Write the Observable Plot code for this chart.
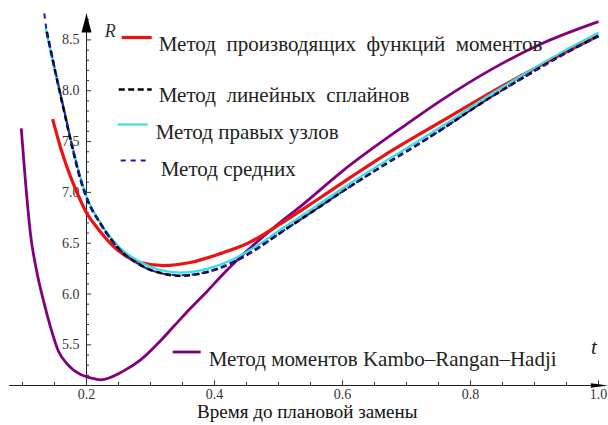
<!DOCTYPE html>
<html><head><meta charset="utf-8">
<script src="https://cdn.jsdelivr.net/npm/d3@7"></script>
<script src="https://cdn.jsdelivr.net/npm/@observablehq/plot@0.6"></script>
<style>
body{margin:0;background:#fff;}
#chart{width:608px;height:425px;}
</style></head><body><div id="chart"></div>
<script>
// ---- data ----
const tPurple = [0.098,0.105,0.1125,0.123,0.133,0.144,0.156,0.170,0.190,0.206,0.222,0.258,0.284,0.311,0.336,0.3625,0.389,0.414,0.45,0.498,0.534,0.60,0.70,0.753,0.83,0.91,1.0];
const rPurple = [7.63,7.08,6.59,6.20,5.93,5.67,5.44,5.31,5.21,5.176,5.156,5.244,5.35,5.51,5.68,5.86,6.03,6.20,6.42,6.68,6.86,7.21,7.67,7.90,8.20,8.46,8.68];

const tRed = [0.147,0.16,0.17,0.185,0.20,0.217,0.242,0.284,0.32,0.362,0.41,0.452,0.503,0.561,0.613,0.664,0.717,0.758,0.82,0.88,0.94,1.0];
const rRed = [7.72,7.43,7.24,7.00,6.80,6.65,6.47,6.31,6.28,6.31,6.40,6.50,6.69,6.93,7.15,7.36,7.56,7.71,7.94,8.15,8.35,8.54];

const tCyan = [0.136,0.145,0.155,0.165,0.175,0.19,0.20,0.222,0.253,0.28,0.32,0.347,0.39,0.425,0.46,0.50,0.56,0.61,0.66,0.72,0.76,0.82,0.88,0.94,1.0];
const rCyan = [8.62,8.36,8.08,7.80,7.53,7.16,6.96,6.70,6.45,6.33,6.23,6.21,6.25,6.33,6.45,6.62,6.87,7.08,7.28,7.51,7.67,7.92,8.15,8.37,8.57];

const tBlack = [0.138,0.145,0.155,0.165,0.175,0.19,0.20,0.222,0.253,0.28,0.32,0.347,0.39,0.425,0.46,0.50,0.56,0.61,0.66,0.72,0.76,0.82,0.88,0.94,1.0];
const rBlack = [8.58,8.37,8.08,7.80,7.52,7.14,6.95,6.69,6.43,6.30,6.20,6.18,6.22,6.30,6.42,6.59,6.84,7.05,7.25,7.48,7.64,7.89,8.12,8.34,8.54];

const tBlue = [0.134,0.137,0.145,0.155,0.165,0.175,0.19,0.20,0.222,0.253,0.28,0.32,0.347,0.39,0.425,0.46,0.50,0.56,0.61,0.66,0.72,0.76,0.82,0.88,0.94,1.0];
const rBlue = [8.76,8.62,8.38,8.09,7.81,7.53,7.15,6.95,6.69,6.43,6.30,6.20,6.185,6.22,6.30,6.42,6.59,6.84,7.05,7.25,7.48,7.64,7.89,8.12,8.34,8.535];

const xTickValues = [0.2,0.4,0.6,0.8,1.0];
const xMinorValues = [0.1,0.15,0.25,0.3,0.35,0.45,0.5,0.55,0.65,0.7,0.75,0.85,0.9,0.95];
const yTickValues = [5.5,6.0,6.5,7.0,7.5,8.0,8.5];
const yMinorValues = [5.2,5.3,5.4,5.6,5.7,5.8,5.9,6.1,6.2,6.3,6.4,6.6,6.7,6.8,6.9,7.1,7.2,7.3,7.4,7.6,7.7,7.8,7.9,8.1,8.2,8.3,8.4,8.6,8.7];

const seriesLabels = [
  "Метод\u00a0 производящих\u00a0 функций\u00a0 моментов",
  "Метод\u00a0 линейных\u00a0 сплайнов",
  "Метод правых узлов",
  "Метод средних",
  "Метод моментов Kambo–Rangan–Hadji"
];
const xTitle = "Время до плановой замены";
const yName = "R";
const xName = "t";

// ---- layout / style ----
const W = 608, H = 425;
const xDomain = [0.08, 1.01], xRange = [9.2, 604.4];
const yDomain = [5.1, 8.75], yRange = [385, 14];
const xAxisAt = yDomain[0];   // x axis drawn at bottom of y domain
const yAxisAt = 0.2;          // y axis crosses at t = 0.2
const yPerPx = (yDomain[1]-yDomain[0])/(yRange[0]-yRange[1]);
const xPerPx = (xDomain[1]-xDomain[0])/(xRange[1]-xRange[0]);
const serif = "'Liberation Serif','Times New Roman',serif";

const toRows = (ts, rs) => ts.map((t,i) => ({t, r: rs[i]}));
const styles = [
  {stroke:"#ee1111", width:3.2, dash:null},
  {stroke:"#000000", width:2.6, dash:"6,3.5"},
  {stroke:"#33e0e0", width:2.2, dash:null},
  {stroke:"#1a1ab8", width:2.0, dash:"5,5"},
  {stroke:"#800080", width:2.8, dash:null}
];
// legend placement (pixels from frame top-left)
const legendPos = [
  {lx:127, ly:23, half:15, tx:149, ty:21.5},
  {lx:125.5, ly:75, half:16.5, tx:149, ty:72.5},
  {lx:123, ly:110, half:15, tx:146, ty:109.5},
  {lx:124.5, ly:146, half:13.5, tx:151, ty:146.5},
  {lx:177, ly:337.5, half:14, tx:199, ty:336.5}
];
const hLine = (half) => ({draw(ctx){ ctx.moveTo(-half,0); ctx.lineTo(half,0); }});
const upArrow = {draw(ctx){ ctx.moveTo(0,-10); ctx.lineTo(5,9); ctx.lineTo(-5,9); ctx.closePath(); }};
const rightArrow = {draw(ctx){ ctx.moveTo(4,0); ctx.lineTo(-14,-2.2); ctx.lineTo(-14,2.2); ctx.closePath(); }};

const lineMark = (rows, s) => Plot.line(rows, {x:"t", y:"r", stroke:s.stroke, strokeWidth:s.width, strokeDasharray:s.dash, curve:"monotone-x", strokeLinecap:"butt"});

const marks = [
  // axes
  Plot.ruleY([xAxisAt], {stroke:"#222", strokeWidth:1}),
  Plot.ruleX([yAxisAt], {stroke:"#222", strokeWidth:1}),
  Plot.ruleX(xMinorValues, {x:d=>d, y1:xAxisAt, y2:xAxisAt+3*yPerPx, stroke:"#333"}),
  Plot.ruleX(xTickValues, {x:d=>d, y1:xAxisAt, y2:xAxisAt+4.5*yPerPx, stroke:"#333"}),
  Plot.ruleY(yMinorValues, {y:d=>d, x1:yAxisAt, x2:yAxisAt+3*xPerPx, stroke:"#333"}),
  Plot.ruleY(yTickValues, {y:d=>d, x1:yAxisAt, x2:yAxisAt+5*xPerPx, stroke:"#333"}),
  Plot.text(xTickValues, {x:d=>d, y:()=>xAxisAt, dy:9, text:d=>d.toFixed(1), fontSize:14, fontFamily:serif, fill:"#333"}),
  Plot.text(yTickValues, {x:()=>yAxisAt, y:d=>d, dx:-7, textAnchor:"end", text:d=>d.toFixed(1), fontSize:14, fontFamily:serif, fill:"#333"}),
  Plot.dot([0], {x:()=>yAxisAt, y:()=>yDomain[1], dy:9, symbol:upArrow, fill:"#000", stroke:null}),
  Plot.dot([0], {x:()=>xDomain[1], y:()=>xAxisAt, symbol:rightArrow, fill:"#000", stroke:null}),
  // curves
  lineMark(toRows(tPurple, rPurple), styles[4]),
  lineMark(toRows(tRed, rRed), styles[0]),
  lineMark(toRows(tCyan, rCyan), styles[2]),
  lineMark(toRows(tBlack, rBlack), styles[1]),
  lineMark(toRows(tBlue, rBlue), styles[3]),
  // axis names
  Plot.text([yName], {frameAnchor:"top-left", dx:95, dy:10, text:d=>d, fontSize:18, fontStyle:"italic", fontFamily:serif, fill:"#333", textAnchor:"start"}),
  Plot.text([xName], {frameAnchor:"bottom-right", dx:-8, dy:-32, text:d=>d, fontSize:21, fontStyle:"italic", fontFamily:serif, fill:"#222"}),
  Plot.text([xTitle], {frameAnchor:"bottom", dy:32.4, text:d=>d, fontSize:19, fontFamily:serif, fill:"#111"})
];
seriesLabels.forEach((lab, i) => {
  const s = styles[i], p = legendPos[i];
  marks.push(Plot.dot([0], {frameAnchor:"top-left", dx:p.lx, dy:p.ly, symbol:hLine(p.half), stroke:s.stroke, strokeWidth:s.width, strokeDasharray:s.dash, fill:"none"}));
  marks.push(Plot.text([lab], {frameAnchor:"top-left", dx:p.tx, dy:p.ty, text:d=>d, textAnchor:"start", fontSize:21, fontFamily:serif, fill:"#222"}));
});

const chart = Plot.plot({
  width: W, height: H,
  marginLeft: 9.2, marginRight: 3.6, marginTop: 14, marginBottom: 40,
  x: {domain: xDomain, range: xRange, axis: null},
  y: {domain: yDomain, range: yRange, axis: null},
  style: {background:"#fff"},
  marks
});
document.getElementById("chart").appendChild(chart);
</script>
</body></html>
